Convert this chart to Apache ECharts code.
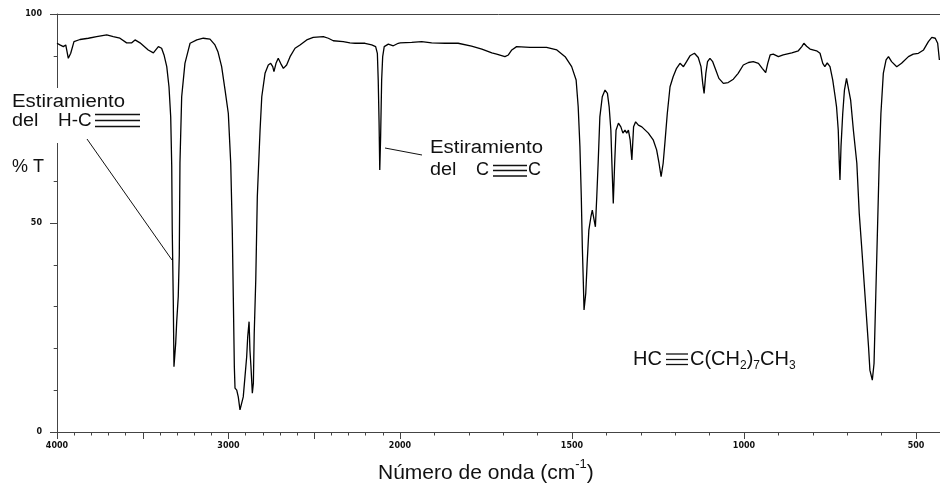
<!DOCTYPE html>
<html><head><meta charset="utf-8">
<script src="https://cdn.jsdelivr.net/npm/echarts@6/dist/echarts.min.js"></script>
<style>html,body{margin:0;padding:0;background:#fff}#c{width:940px;height:487px}</style>
</head><body><div id="c"></div>
<script>
const wavenumber = [4000,3983,3963,3949,3934,3920,3901,3866,3817,3769,3710,3672,3633,3594,3564,3545,3516,3468,3438,3409,3390,3376,3360,3347,3337,3331,3328,3322,3318,3314,3308,3302,3293,3287,3283,3273,3254,3234,3224,3185,3147,3108,3079,3061,3040,3020,3001,2987,2978,2972,2966,2962,2952,2943,2933,2923,2914,2904,2894,2888,2880,2875,2869,2861,2855,2850,2841,2832,2816,2806,2787,2768,2754,2742,2735,2723,2710,2696,2680,2661,2641,2612,2583,2544,2506,2447,2418,2389,2331,2292,2262,2204,2165,2142,2132,2127,2122,2118,2113,2107,2101,2092,2068,2039,2010,2000,
1966,1937,1908,1869,1831,1792,1762,1733,1719,1695,1685,1675,1661,1622,1574,1544,1520,1501,1488,1482,1477,1473,1470,1467,1465,1460,1456,1451,1445,1441,1436,1432,1428,1424,1419,1412,1404,1397,1392,1387,1384,1380,1376,1372,1365,1358,1352,1346,1341,1336,1331,1326,1321,1315,1307,1297,1293,1278,1264,1254,1247,1241,1235,1230,1223,1215,1206,1196,1186,1176,1167,1157,1144,1133,1125,1120,1116,1111,1106,1099,1091,1082,1073,1060,1046,1031,1017,1002,987,973,958,947,937,931,924,915,900,886,861,842,832,826,818,808,789,779,771,765,758,750,742,735,731,726,723,721,718,713,708,702,697,690,682,672,665,658,648,638,634,627,622,617,612,607,602,595,587,580,571,556,542,522,508,493,478,464,454,444,437,432];
const transmittance = [93.0,92.6,92.2,92.6,89.4,90.6,93.4,93.9,94.2,94.6,95.0,94.6,94.2,93.1,93.1,93.8,93.1,91.4,90.7,92.2,91.8,90.2,87.4,82.6,75.4,63.5,48.3,31.6,15.6,15.3,21.2,26.4,32.4,42.3,64.4,80.2,88.2,91.4,93.0,93.8,94.2,94.0,92.6,90.9,87.4,81.8,76.2,64.3,48.3,32.4,15.6,10.5,10.0,8.4,5.3,5.3,8.4,13.2,18.0,22.8,26.4,19.6,15.6,9.3,11.7,23.6,36.4,56.3,72.2,80.2,85.8,87.8,88.2,87.4,86.2,88.2,89.4,88.2,87.0,87.8,89.8,91.8,92.6,93.8,94.4,94.6,94.2,93.6,93.4,93.1,93.0,93.0,92.6,92.2,90.6,84.2,73.9,62.7,70.6,84.2,89.8,92.2,92.8,92.4,93.0,93.1,
93.2,93.4,93.1,93.0,93.0,92.3,91.6,90.7,90.4,89.8,90.2,91.4,92.2,92.0,92.0,91.4,89.8,87.4,84.2,77.8,68.3,56.3,44.3,35.6,29.2,33.2,40.4,48.3,51.5,53.1,52.7,49.1,56.3,64.3,75.4,80.2,81.8,81.0,77.8,72.2,64.3,54.7,64.3,72.2,73.9,73.0,71.5,72.2,71.5,72.2,69.9,65.1,73.0,74.2,73.4,73.0,72.7,71.5,69.9,67.5,64.3,61.1,64.3,69.1,76.2,82.6,85.0,87.0,88.2,87.4,88.6,90.0,90.6,89.6,87.4,83.4,81.0,85.8,88.6,89.4,88.6,86.6,84.6,83.4,83.6,84.4,85.8,87.8,88.4,88.6,88.2,87.0,86.0,88.2,90.2,90.4,89.8,90.2,90.7,91.2,92.2,93.0,92.3,91.6,91.2,90.6,88.2,87.4,88.3,87.4,84.2,80.2,77.8,72.2,64.3,60.3,68.3,76.2,81.8,84.6,84.2,79.4,72.2,64.3,52.3,44.3,32.4,20.4,14.8,12.4,16.4,32.4,48.3,64.3,76.2,85.8,89.0,89.8,88.6,87.4,88.2,89.8,90.4,90.6,91.4,93.4,94.4,94.2,93.0,89.0];
const xTickLabelsHigh = [4000, 3000];
const xTickLabelsLow = [2000, 1500, 1000, 500];
const yTickLabels = [0, 50, 100];
const SCALE_CHANGE = 2000;

const highPart = [], lowPart = [];
wavenumber.forEach((w, i) => {
  if (w >= SCALE_CHANGE) highPart.push([w, transmittance[i]]);
  if (w <= SCALE_CHANGE) lowPart.push([w, transmittance[i]]);
});

const chart = echarts.init(document.getElementById('c'), null, {renderer: 'canvas'});
const axisCol = '#444';
const ink = '#111';
const tickFont = {fontFamily: 'DejaVu Sans', fontSize: 8, fontWeight: 'bold', color: ink};
const annFont = '18px "Liberation Sans", Arial, sans-serif';

function xAxisDef(gridIndex, min, max, labels) {
  return {
    type: 'value', gridIndex, inverse: true, min, max, interval: 500,
    splitLine: {show: false},
    axisLine: {lineStyle: {color: axisCol, width: 1}},
    axisTick: {length: 7, lineStyle: {color: axisCol}},
    minorTick: {show: true, splitNumber: 5, length: 3.5, lineStyle: {color: axisCol}},
    axisLabel: Object.assign({}, tickFont, {margin: 10, formatter: v => labels.includes(v) ? String(v) : ''})
  };
}

function line(x1, y1, x2, y2, w) {
  return {type: 'line', z: 100, shape: {x1, y1, x2, y2}, style: {stroke: ink, lineWidth: w || 1}};
}
function txt(x, y, text, extra) {
  return Object.assign({type: 'text', z: 101, x, y, style: {text, font: annFont, fill: ink, verticalAlign: 'middle'}}, extra || {});
}

const option = {
  backgroundColor: '#fff',
  animation: false,
  grid: [
    {left: 57, top: 14, width: 343, height: 418, outerBoundsMode: 'none', containLabel: false},
    {left: 400, top: 14, width: 688, height: 418, outerBoundsMode: 'none', containLabel: false}
  ],
  xAxis: [
    xAxisDef(0, 2000, 4000, xTickLabelsHigh),
    xAxisDef(1, 0, 2000, xTickLabelsLow)
  ],
  yAxis: [
    {type: 'value', gridIndex: 0, min: 0, max: 100, interval: 50,
     splitLine: {show: false},
     axisLine: {show: true, lineStyle: {color: axisCol, width: 1}},
     axisTick: {show: true, length: 7, lineStyle: {color: axisCol}},
     minorTick: {show: true, splitNumber: 5, length: 3.3, lineStyle: {color: axisCol}},
     axisLabel: Object.assign({}, tickFont, {margin: 15, formatter: v => yTickLabels.includes(v) ? String(v) : ''})},
    {type: 'value', gridIndex: 1, min: 0, max: 100, show: false}
  ],
  series: [
    {type: 'line', xAxisIndex: 0, yAxisIndex: 0, data: highPart, showSymbol: false, symbol: 'none',
     lineStyle: {color: '#000', width: 1.3}, clip: true},
    {type: 'line', xAxisIndex: 1, yAxisIndex: 1, data: lowPart, showSymbol: false, symbol: 'none',
     lineStyle: {color: '#000', width: 1.3}, clip: true}
  ],
  graphic: [
    {type: 'line', z: 100, shape: {x1: 57, y1: 14.5, x2: 940, y2: 14.5}, style: {stroke: axisCol, lineWidth: 1}},
    {type: 'rect', z: 99, shape: {x: 0, y: 88, width: 150, height: 55}, style: {fill: '#fff'}},
    {type: 'rect', z: 99, shape: {x: 0, y: 154, width: 52, height: 25}, style: {fill: '#fff'}},
    // annotation 1
    txt(12, 102, 'Estiramiento', {scaleX: 1.13}),
    txt(12, 121.5, 'del', {scaleX: 1.1}),
    txt(58, 121.5, 'H-C', {scaleX: 1.05}),
    line(95, 114.5, 140, 114.5, 1.3), line(95, 120.5, 140, 120.5, 1.3), line(95, 126.5, 140, 126.5, 1.3),
    line(87, 139, 172, 260, 1),
    txt(12, 167, '% T'),
    // annotation 2
    txt(430, 148, 'Estiramiento', {scaleX: 1.13}),
    txt(430, 170.5, 'del', {scaleX: 1.1}),
    txt(476, 170.5, 'C'),
    line(493, 165.5, 527, 165.5, 1.3), line(493, 170.5, 527, 170.5, 1.3), line(493, 176, 527, 176, 1.3),
    txt(528, 170.5, 'C'),
    line(385, 148, 422, 155, 1),
    // formula
    txt(633, 359, 'HC', {style: {text: 'HC', font: '20px "Liberation Sans", Arial, sans-serif', fill: ink, verticalAlign: 'middle'}}),
    line(666, 354, 688, 354, 1.3), line(666, 359.5, 688, 359.5, 1.3), line(666, 364.5, 688, 364.5, 1.3),
    {type: 'text', z: 101, x: 690, y: 359, style: {
      text: 'C(CH{s|2}){s|7}CH{s|3}', font: '20px "Liberation Sans", Arial, sans-serif', fill: ink,
      verticalAlign: 'middle', lineHeight: 26,
      rich: {s: {fontSize: 12, fontFamily: '"Liberation Sans", Arial, sans-serif', verticalAlign: 'bottom', lineHeight: 12, fill: ink}}
    }},
    // x axis title
    {type: 'text', z: 101, x: 378, y: 473, style: {
      text: 'Número de onda (cm{b|-1})', font: '21px "Liberation Sans", Arial, sans-serif', fill: ink,
      verticalAlign: 'middle', lineHeight: 30,
      rich: {b: {fontSize: 13, fontFamily: '"Liberation Sans", Arial, sans-serif', verticalAlign: 'top', lineHeight: 13, fill: ink}}
    }}
  ]
};
chart.setOption(option);
</script>
</body></html>
